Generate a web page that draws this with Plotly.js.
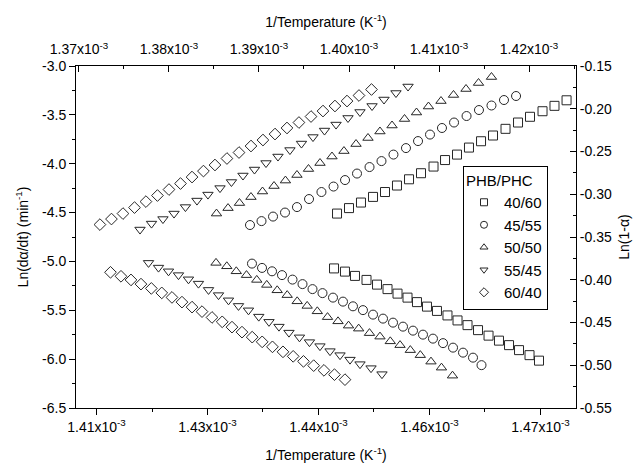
<!DOCTYPE html>
<html>
<head>
<meta charset="utf-8">
<script src="https://cdn.plot.ly/plotly-3.0.1.min.js"></script>
<style>html,body{margin:0;padding:0;background:#fff;}#chart{width:643px;height:469px;}</style>
</head>
<body>
<div id="chart"></div>
<script>
// Composition labels (PHB/PHC)
var compositions = ["40/60", "45/55", "50/50", "55/45", "60/40"];
var symbols = ["square-open", "circle-open", "triangle-up-open", "triangle-down-open", "diamond-open"];

// Upper series: Ln(1-alpha) (right axis) vs 1/T (top axis), 1/T in units of 1e-3 K^-1
var up40_x = [1.39867,1.40000,1.40133,1.40267,1.40400,1.40533,1.40667,1.40800,1.40939,1.41067,1.41200,1.41333,1.41467,1.41600,1.41739,1.41878,1.42011,1.42150,1.42283,1.42417];
var up40_y = [-0.3226,-0.3162,-0.3097,-0.3031,-0.2974,-0.2898,-0.2825,-0.2754,-0.2676,-0.2600,-0.2536,-0.2454,-0.2380,-0.2313,-0.2235,-0.2161,-0.2094,-0.2029,-0.1966,-0.1901];
var up45_x = [1.38900,1.39028,1.39156,1.39289,1.39422,1.39556,1.39694,1.39828,1.39956,1.40089,1.40228,1.40361,1.40494,1.40633,1.40767,1.40900,1.41033,1.41167,1.41306,1.41444,1.41583,1.41722,1.41856];
var up45_y = [-0.3360,-0.3314,-0.3261,-0.3214,-0.3150,-0.3056,-0.2974,-0.2910,-0.2834,-0.2758,-0.2682,-0.2612,-0.2536,-0.2460,-0.2378,-0.2302,-0.2225,-0.2161,-0.2085,-0.2015,-0.1962,-0.1898,-0.1851];
var up50_x = [1.38528,1.38656,1.38783,1.38911,1.39039,1.39167,1.39294,1.39422,1.39550,1.39678,1.39811,1.39944,1.40078,1.40211,1.40344,1.40478,1.40617,1.40750,1.40883,1.41022,1.41161,1.41300,1.41439,1.41583];
var up50_y = [-0.3226,-0.3162,-0.3103,-0.3033,-0.2968,-0.2904,-0.2840,-0.2775,-0.2705,-0.2635,-0.2559,-0.2495,-0.2413,-0.2342,-0.2266,-0.2196,-0.2120,-0.2044,-0.1974,-0.1910,-0.1839,-0.1769,-0.1699,-0.1629];
var up55_x = [1.37678,1.37806,1.37933,1.38056,1.38183,1.38311,1.38433,1.38567,1.38694,1.38822,1.38950,1.39078,1.39211,1.39344,1.39472,1.39600,1.39728,1.39856,1.39989,1.40122,1.40256,1.40389,1.40522,1.40656];
var up55_y = [-0.3413,-0.3343,-0.3290,-0.3226,-0.3150,-0.3074,-0.3004,-0.2928,-0.2857,-0.2781,-0.2711,-0.2635,-0.2559,-0.2483,-0.2407,-0.2331,-0.2255,-0.2185,-0.2108,-0.2038,-0.1968,-0.1892,-0.1816,-0.1740];
var up60_x = [1.37233,1.37361,1.37489,1.37617,1.37744,1.37872,1.38000,1.38128,1.38256,1.38383,1.38511,1.38644,1.38778,1.38911,1.39044,1.39178,1.39311,1.39444,1.39578,1.39711,1.39844,1.39978,1.40111,1.40250];
var up60_y = [-0.3355,-0.3290,-0.3226,-0.3156,-0.3086,-0.3015,-0.2945,-0.2875,-0.2799,-0.2729,-0.2658,-0.2582,-0.2512,-0.2436,-0.2366,-0.2296,-0.2225,-0.2161,-0.2091,-0.2027,-0.1968,-0.1910,-0.1845,-0.1775];

// Lower series: Ln(d alpha/dt) (left axis) vs 1/T (bottom axis)
var lo40_x = [1.44210,1.44358,1.44493,1.44649,1.44791,1.44933,1.45068,1.45203,1.45331,1.45466,1.45601,1.45743,1.45879,1.46014,1.46156,1.46298,1.46439,1.46575,1.46710,1.46852,1.46980];
var lo40_y = [-5.0714,-5.1041,-5.1481,-5.1891,-5.2372,-5.2833,-5.3294,-5.3703,-5.4164,-5.4625,-5.5065,-5.5526,-5.6038,-5.6519,-5.7031,-5.7594,-5.8106,-5.8567,-5.9079,-5.9591,-6.0154];
var lo45_x = [1.43101,1.43237,1.43372,1.43507,1.43649,1.43784,1.43919,1.44054,1.44196,1.44331,1.44466,1.44601,1.44737,1.44872,1.45007,1.45142,1.45277,1.45412,1.45547,1.45683,1.45818,1.45953,1.46088,1.46203];
var lo45_y = [-5.0222,-5.0663,-5.1010,-5.1400,-5.1860,-5.2321,-5.2833,-5.3243,-5.3703,-5.4113,-5.4594,-5.4983,-5.5444,-5.5853,-5.6263,-5.6673,-5.7082,-5.7492,-5.7901,-5.8362,-5.8823,-5.9335,-5.9847,-6.0615];
var lo50_x = [1.42615,1.42761,1.42889,1.43027,1.43166,1.43301,1.43442,1.43577,1.43712,1.43847,1.43984,1.44122,1.44264,1.44406,1.44543,1.44689,1.44831,1.44970,1.45102,1.45241,1.45376,1.45520,1.45662,1.45811];
var lo50_y = [-5.0150,-5.0498,-5.1010,-5.1400,-5.1891,-5.2403,-5.2956,-5.3447,-5.4082,-5.4553,-5.5106,-5.5700,-5.6130,-5.6570,-5.6877,-5.7338,-5.7697,-5.8178,-5.8567,-5.9079,-5.9591,-6.0256,-6.0871,-6.1690];
var lo55_x = [1.41703,1.41838,1.41973,1.42108,1.42243,1.42378,1.42514,1.42649,1.42784,1.42919,1.43054,1.43193,1.43331,1.43466,1.43601,1.43743,1.43878,1.44020,1.44156,1.44291,1.44426,1.44561,1.44710,1.44858];
var lo55_y = [-5.0150,-5.0632,-5.1010,-5.1400,-5.1830,-5.2270,-5.2915,-5.3447,-5.3980,-5.4553,-5.5004,-5.5649,-5.6181,-5.6673,-5.7287,-5.7768,-5.8260,-5.8669,-5.9181,-5.9591,-6.0051,-6.0512,-6.0922,-6.1536];
var lo60_x = [1.41189,1.41331,1.41466,1.41601,1.41741,1.41882,1.42020,1.42155,1.42291,1.42426,1.42561,1.42699,1.42831,1.42966,1.43104,1.43239,1.43378,1.43520,1.43658,1.43797,1.43935,1.44074,1.44216,1.44358];
var lo60_y = [-5.1113,-5.1522,-5.1891,-5.2321,-5.2761,-5.3222,-5.3683,-5.4164,-5.4676,-5.5137,-5.5731,-5.6181,-5.6724,-5.7236,-5.7748,-5.8229,-5.8741,-5.9253,-5.9714,-6.0226,-6.0666,-6.1147,-6.1587,-6.2099];

// Tick labels
var bottomTickVals = [1.41, 1.425, 1.44, 1.455, 1.47];
var bottomTickText = ["1.41x10<sup>-3</sup>", "1.43x10<sup>-3</sup>", "1.44x10<sup>-3</sup>", "1.46x10<sup>-3</sup>", "1.47x10<sup>-3</sup>"];
var topTickVals = [1.37, 1.38, 1.39, 1.40, 1.41, 1.42];
var topTickText = ["1.37x10<sup>-3</sup>", "1.38x10<sup>-3</sup>", "1.39x10<sup>-3</sup>", "1.40x10<sup>-3</sup>", "1.41x10<sup>-3</sup>", "1.42x10<sup>-3</sup>"];
var leftTickVals = [-6.5, -6.0, -5.5, -5.0, -4.5, -4.0, -3.5, -3.0];
var leftTickText = ["-6.5", "-6.0", "-5.5", "-5.0", "-4.5", "-4.0", "-3.5", "-3.0"];
var rightTickVals = [-0.55, -0.50, -0.45, -0.40, -0.35, -0.30, -0.25, -0.20, -0.15];
var rightTickText = ["-0.55", "-0.50", "-0.45", "-0.40", "-0.35", "-0.30", "-0.25", "-0.20", "-0.15"];

var upX = [up40_x, up45_x, up50_x, up55_x, up60_x];
var upY = [up40_y, up45_y, up50_y, up55_y, up60_y];
var loX = [lo40_x, lo45_x, lo50_x, lo55_x, lo60_x];
var loY = [lo40_y, lo45_y, lo50_y, lo55_y, lo60_y];

var markerColor = "#262626";
var traces = [];
for (var i = 0; i < compositions.length; i++) {
  traces.push({
    x: upX[i], y: upY[i], xaxis: "x2", yaxis: "y2", type: "scatter", mode: "markers",
    name: compositions[i], showlegend: false,
    marker: {symbol: symbols[i], size: 9, color: markerColor, line: {width: 1, color: markerColor}}
  });
  traces.push({
    x: loX[i], y: loY[i], xaxis: "x", yaxis: "y", type: "scatter", mode: "markers",
    name: compositions[i], showlegend: false,
    marker: {symbol: symbols[i], size: 9, color: markerColor, line: {width: 1, color: markerColor}}
  });
}
// legend-only entries (smaller symbols as in the original key)
for (var j = 0; j < compositions.length; j++) {
  traces.push({
    x: [null], y: [null], xaxis: "x", yaxis: "y", type: "scatter", mode: "markers",
    name: compositions[j], showlegend: true,
    marker: {symbol: symbols[j], size: 7, color: markerColor, line: {width: 1, color: markerColor}}
  });
}

var font = {family: "Arial, 'Liberation Sans', sans-serif", size: 14, color: "#000"};
var axisCommon = {
  showline: true, linecolor: "#000", linewidth: 1, showgrid: false, zeroline: false,
  tickcolor: "#000", tickwidth: 1, ticklen: 6, tickmode: "array",
  tickfont: font
};

var layout = {
  width: 643, height: 469,
  margin: {l: 76, r: 67, t: 66, b: 61, pad: 0},
  paper_bgcolor: "#fff", plot_bgcolor: "#fff",
  font: font,
  showlegend: true,
  legend: {
    x: 0.774, y: 0.709, xanchor: "left", yanchor: "top",
    bordercolor: "#000", borderwidth: 1, bgcolor: "#fff",
    title: {text: "PHB/PHC", font: {family: font.family, size: 15, color: "#000"}},
    font: {family: font.family, size: 15, color: "#000"},
    tracegroupgap: 0, itemwidth: 30
  },
  xaxis: Object.assign({}, axisCommon, {
    range: [1.40723, 1.47480], side: "bottom", ticks: "outside",
    tickvals: bottomTickVals, ticktext: bottomTickText,
    minor: {tick0: 1.41, dtick: 0.0075, ticklen: 3, tickcolor: "#000", ticks: "outside"},
    title: {text: "1/Temperature (K<sup>-1</sup>)", font: font, standoff: 16}
  }),
  xaxis2: Object.assign({}, axisCommon, {
    range: [1.36967, 1.42522], side: "top", overlaying: "x", anchor: "y", ticks: "inside",
    tickvals: topTickVals, ticktext: topTickText, ticklabelstandoff: 5,
    minor: {tick0: 1.37, dtick: 0.005, ticklen: 3, tickcolor: "#000", ticks: "inside"},
    title: {text: "1/Temperature (K<sup>-1</sup>)", font: font, standoff: 8}
  }),
  yaxis: Object.assign({}, axisCommon, {
    range: [-6.5, -3.0], side: "left", ticks: "outside",
    tickvals: leftTickVals, ticktext: leftTickText,
    minor: {tick0: -6.5, dtick: 0.25, ticklen: 3, tickcolor: "#000", ticks: "outside"},
    title: {text: "Ln(d\u03b1/dt) (min<sup>-1</sup>)", font: font, standoff: 10}
  }),
  yaxis2: Object.assign({}, axisCommon, {
    range: [-0.55, -0.15], side: "right", overlaying: "y", anchor: "x", ticks: "inside",
    tickvals: rightTickVals, ticktext: rightTickText,
    minor: {tick0: -0.55, dtick: 0.025, ticklen: 3, tickcolor: "#000", ticks: "inside"},
    title: {text: "Ln(1-\u03b1)", font: font, standoff: 8}
  })
};

Plotly.newPlot("chart", traces, layout, {displayModeBar: false, staticPlot: true});
</script>
</body>
</html>
